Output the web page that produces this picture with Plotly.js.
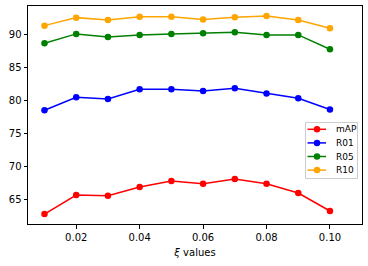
<!DOCTYPE html>
<html><head><meta charset="utf-8">
<script src="https://cdn.plot.ly/plotly-3.0.1.min.js"></script>
<style>html,body{margin:0;padding:0;background:#fff}#c{width:368px;height:266px}</style>
</head><body><div id="c"></div>
<script>
const xiValues = [0.01,0.02,0.03,0.04,0.05,0.06,0.07,0.08,0.09,0.10];
const mAP = [62.79,65.66,65.56,66.87,67.78,67.37,68.08,67.37,65.97,63.25];
const R01 = [78.49,80.45,80.20,81.66,81.66,81.40,81.81,81.01,80.30,78.60];
const R05 = [88.64,90.05,89.59,89.89,90.05,90.15,90.30,89.89,89.89,87.73];
const R10 = [91.30,92.51,92.16,92.66,92.66,92.21,92.57,92.76,92.16,90.91];
const seriesNames = ['mAP','R01','R05','R10'];
const seriesColors = ['#ff0000','#0000ff','#008000','#ffa500'];
const seriesData = [mAP,R01,R05,R10];
const xTicks = [0.02,0.04,0.06,0.08,0.10];
const yTicks = [65,70,75,80,85,90];

const W=368,H=266, M={l:28,r:6,t:6,b:42};
const PW=W-M.l-M.r, PH=H-M.t-M.b;
const px=x=>(x-M.l)/PW, py=y=>(H-M.b-y)/PH;

const traces = seriesData.map((ys,i)=>({
  x: xiValues, y: ys, name: seriesNames[i], type:'scatter', mode:'lines+markers',
  line:{color:seriesColors[i], width:1.5},
  marker:{color:seriesColors[i], size:6.5}
}));

// custom matplotlib-style legend
const shapes=[], annotations=[];
shapes.push({type:'rect', xref:'paper', yref:'paper', x0:px(305.5), x1:px(357.5), y0:py(178.5), y1:py(122.5),
  line:{color:'#cccccc', width:1}, fillcolor:'rgba(255,255,255,0.8)', layer:'above'});
seriesNames.forEach((n,i)=>{
  const yy = 129.3 + i*13.6;
  shapes.push({type:'line', xref:'paper', yref:'paper', x0:px(307.5), x1:px(326), y0:py(yy), y1:py(yy),
    line:{color:seriesColors[i], width:1.5}, layer:'above'});
  shapes.push({type:'circle', xref:'paper', yref:'paper', xsizemode:'pixel', ysizemode:'pixel',
    xanchor:px(317), yanchor:py(yy), x0:-3.25, x1:3.25, y0:-3.25, y1:3.25,
    fillcolor:seriesColors[i], line:{width:0}, layer:'above'});
  annotations.push({xref:'paper', yref:'paper', x:px(334), y:py(yy), xanchor:'left', yanchor:'middle',
    text:n, showarrow:false, font:{family:'DejaVu Sans', size:9, color:'#000'}});
});

const axisFont = {family:'DejaVu Sans', size:10, color:'#000'};
const layout = {
  width:W, height:H, margin:M,
  paper_bgcolor:'#fff', plot_bgcolor:'#fff',
  showlegend:false, shapes, annotations,
  xaxis:{range:[0.0048,0.1101], tickvals:xTicks, ticktext:xTicks.map(v=>v.toFixed(2)),
    showgrid:false, zeroline:false, showline:true, mirror:true, linecolor:'#000', linewidth:1,
    ticks:'outside', ticklen:3.5, tickcolor:'#000', tickfont:axisFont,
    title:{text:'<i>ξ</i> values', font:axisFont, standoff:7}},
  yaxis:{range:[61.28,94.27], tickvals:yTicks,
    showgrid:false, zeroline:false, showline:true, mirror:true, linecolor:'#000', linewidth:1,
    ticks:'outside', ticklen:3.5, tickcolor:'#000', tickfont:axisFont}
};
Plotly.newPlot('c', traces, layout, {displayModeBar:false, staticPlot:true});
</script></body></html>
